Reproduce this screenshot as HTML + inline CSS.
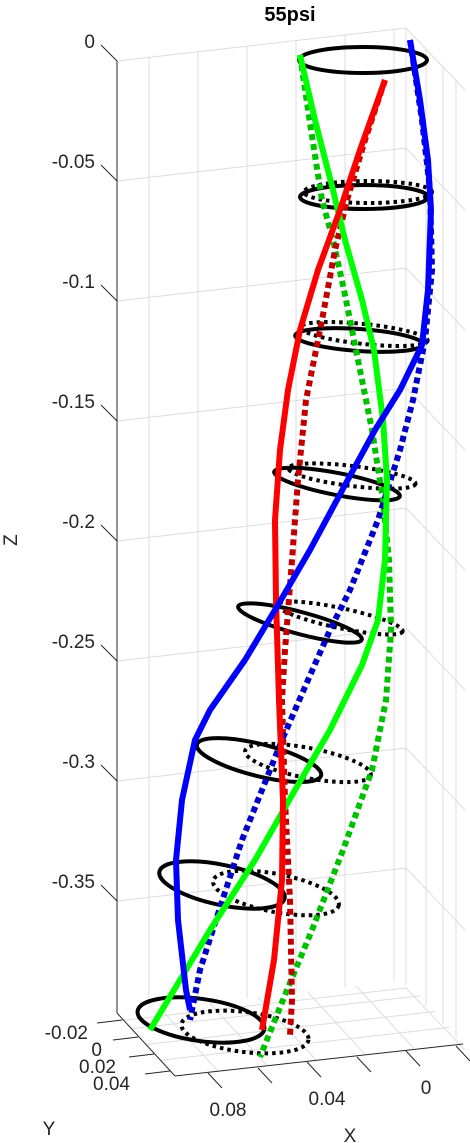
<!DOCTYPE html>
<html><head><meta charset="utf-8"><style>
body{margin:0;background:#fff}
svg{display:block;font-family:"Liberation Sans","DejaVu Sans",sans-serif}
</style></head><body>
<svg id="chart" width="470" height="1143" viewBox="0 0 470 1143" xmlns="http://www.w3.org/2000/svg">
<text x="290" y="21" font-size="20" font-weight="bold" text-anchor="middle" fill="#000">55psi</text>
<g id="grid" stroke="#dcdcdc" stroke-width="1" fill="none"></g>
<g id="axes" stroke="#262626" stroke-width="1" fill="none"></g>
<g id="labels" font-size="19" fill="#262626"></g>
<g id="rings" fill="none"></g>
<g id="curves" fill="none" stroke-linejoin="round"></g>
<text x="17" y="540" font-size="19" fill="#262626" transform="rotate(-90 17 540)" text-anchor="middle">Z</text>
<text x="49" y="1135" font-size="19" fill="#262626" text-anchor="middle">Y</text>
<text x="350" y="1142" font-size="19" fill="#262626" text-anchor="middle">X</text>
</svg>
<script>
const zTicks=[0,-0.05,-0.1,-0.15,-0.2,-0.25,-0.3,-0.35];
const zTickLabels=["0","-0.05","-0.1","-0.15","-0.2","-0.25","-0.3","-0.35"];
const yTickLabels=["-0.02","0","0.02","0.04"];
const xTickLabels=["0.08","0.04","0"];
const ringZ=[0,-0.05,-0.1,-0.15,-0.2,-0.25,-0.3,-0.35];
const ringCx=[363,364,359,337,300,259,222,201];
const ringCy=[60,197,340,484,623,760,885,1020];
const ringRy=[13,12,11,11,11,16,20,21];
const ringTilt=[0,0,4,11,15,14,12,8];
const dotCx=[363,368,364,352,340,308,276,245];
const dotCy=[60,192,334,476,618,763,893,1032];
const dotTilt=[0,0,6,7,12,11,11,7];
const greenSolid=[[300,55],[315,120],[333,190],[345,240],[362,300],[374,350],[383,420],[387,480],[385,560],[378,620],[362,665],[330,730],[295,790],[255,860],[210,930],[180,980],[150,1030]];
const greenDash=[[300,55],[311,130],[322,200],[333,240],[344,290],[358,360],[372,430],[383,500],[389,560],[391,630],[386,700],[372,770],[343,850],[312,930],[287,990],[260,1057]];
const redSolid=[[385,80],[360,150],[340,210],[318,270],[300,330],[288,390],[280,450],[275,520],[276,600],[279,700],[283,800],[282,880],[274,960],[262,1030]];
const redDash=[[385,80],[365,140],[347,200],[335,250],[322,320],[306,400],[298,480],[292,560],[285,650],[282,700],[285,800],[290,900],[292,1000],[290,1035]];
const blueSolid=[[410,40],[420,100],[428,160],[431,210],[428,290],[422,345],[400,390],[375,430],[345,485],[310,550],[275,610],[245,660],[210,710],[195,740],[182,800],[176,860],[178,920],[186,990],[190,1010]];
const blueDash=[[410,40],[422,120],[430,190],[432,270],[425,340],[413,400],[400,450],[378,520],[350,590],[330,630],[308,680],[282,740],[262,790],[242,840],[216,920],[200,970],[190,1020]];

const NS="http://www.w3.org/2000/svg";
function zToY(z){return 61-z*2400;}
function mk(tag,attrs,parent){const e=document.createElementNS(NS,tag);for(const k in attrs)e.setAttribute(k,attrs[k]);parent.appendChild(e);return e;}
const grid=document.getElementById('grid'),axes=document.getElementById('axes'),labels=document.getElementById('labels');
[149,198,247,296,345,394].forEach((x,i)=>{const t=(x-117)/289;const l=mk('line',{x1:x,y1:61-33*t,x2:x,y2:1013-33*t},grid);

});
[426,443,456].forEach(x=>{const t=(x-406)/59;const l=mk('line',{x1:x,y1:28+62*t,x2:x,y2:985+62*t},grid);

});
mk('line',{x1:406,y1:28,x2:406,y2:985},grid);
zTicks.concat([-0.4]).forEach(z=>{const y=zToY(z);
const a=mk('polyline',{points:`117,${y} 406,${y-33} 465,${y+29}`},grid);

});
for(let i=1;i<4;i++){const t=i/4;mk('line',{x1:117+58*t,y1:1013+63*t,x2:406+58*t,y2:980+63*t},grid);}
[160,209,258,307,356].forEach(x=>{const t=(x-117)/289;mk('line',{x1:x,y1:1013-33*t,x2:x+58,y2:1076-33*t},grid);});
mk('line',{x1:117,y1:61,x2:117,y2:1013},axes);
mk('polyline',{points:'117,1013 175,1076 463,1044'},axes);
zTicks.forEach((z,i)=>{const y=zToY(z);
const t=mk('line',{x1:101,y1:y-16,x2:117,y2:y},axes);


const tx=mk('text',{x:95,y:y-13,'text-anchor':'end'},labels);tx.textContent=zTickLabels[i];

});
yTickLabels.forEach((s,i)=>{const x0=122+16*i,y0=1020+17*i;
mk('line',{x1:x0,y1:y0,x2:x0-25,y2:y0+3},axes);
const tx=mk('text',{x:x0-34-2*i,y:y0+19,'text-anchor':'end'},labels);tx.textContent=s;

});
xTickLabels.forEach((s,i)=>{const x0=208+99*i,y0=1073-11*i;
mk('line',{x1:x0,y1:y0,x2:x0+14,y2:y0+15},axes);
mk('line',{x1:x0+50,y1:y0-5,x2:x0+64,y2:y0+10},axes);
const tx=mk('text',{x:x0+20,y:y0+43,'text-anchor':'middle'},labels);tx.textContent=s;

});
const rings=document.getElementById('rings');
ringZ.forEach((z,i)=>{
if(i>0){const d=mk('ellipse',{cx:dotCx[i],cy:dotCy[i],rx:64,ry:ringRy[i]-1,transform:`rotate(${dotTilt[i]} ${dotCx[i]} ${dotCy[i]})`,stroke:'#000','stroke-width':4,'stroke-dasharray':'3.5 4'},rings);

}
const e=mk('ellipse',{cx:ringCx[i],cy:ringCy[i],rx:64,ry:ringRy[i],transform:`rotate(${ringTilt[i]} ${ringCx[i]} ${ringCy[i]})`,stroke:'#000','stroke-width':4},rings);

});
const curves=document.getElementById('curves');
function curve(pts,color,dash,name){const p=mk('polyline',{points:pts.map(q=>q.join(',')).join(' '),stroke:color,'stroke-width':dash?6:6},curves);
if(dash)p.setAttribute('stroke-dasharray','6 4');

}
curve(greenDash,'#00c000',true,'green-reference-line');
curve(redDash,'#c00000',true,'red-reference-line');
curve(blueDash,'#0000c8',true,'blue-reference-line');
curve(greenSolid,'#00ff00',false,'green-deformed-line');
curve(redSolid,'#ff0000',false,'red-deformed-line');
curve(blueSolid,'#0000ff',false,'blue-deformed-line');
</script>
</body></html>
